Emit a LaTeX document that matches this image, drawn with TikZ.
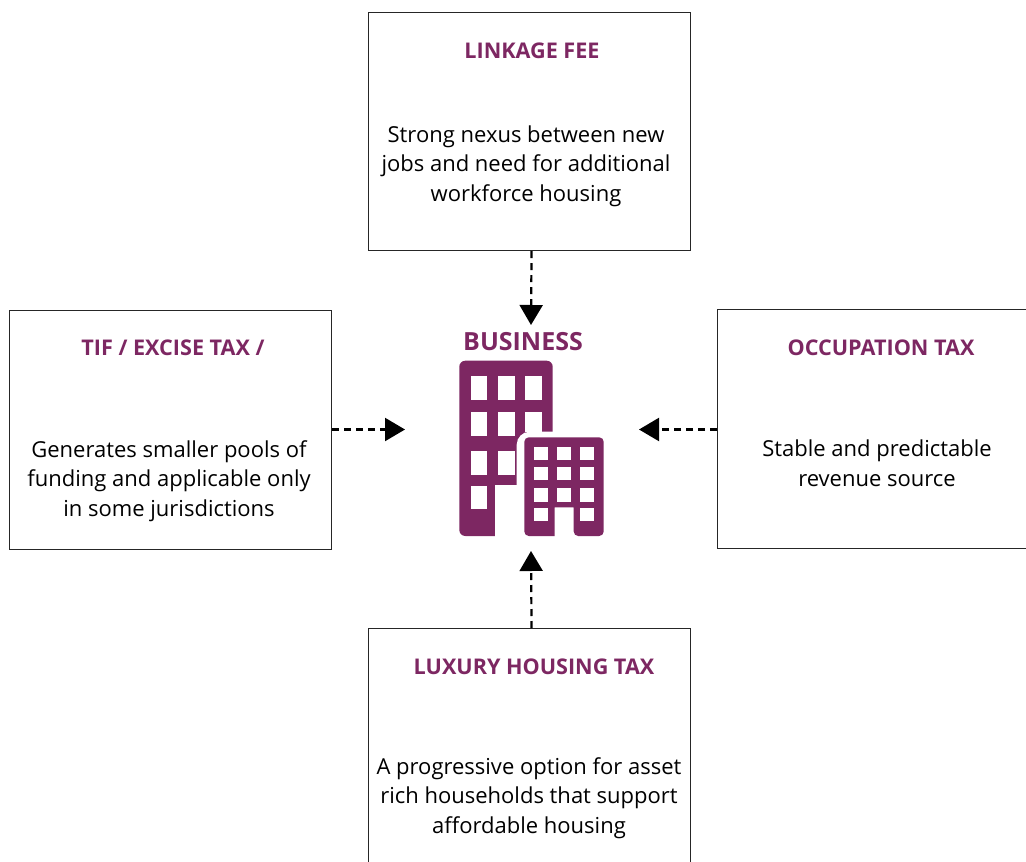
\documentclass[tikz,border=0pt]{standalone}
\usepackage{fontspec}
\setmainfont{Open Sans}
\usetikzlibrary{arrows.meta}
\definecolor{plum}{HTML}{7D2762}
\tikzset{
 x=1pt,y=-1pt,
 boxn/.style={draw=black!85,line width=1.1pt,fill=white,inner sep=0pt,minimum width=#1,anchor=north west},
 titlen/.style={text=plum,font=\fontsize{21.6}{25}\selectfont\bfseries,inner sep=0pt,anchor=base},
 bodyn/.style={font=\fontsize{22}{29.5}\selectfont,align=center,inner sep=0pt},
 link/.style={draw=black,line width=2.2pt,dash pattern=on 7pt off 5pt,-{Triangle[length=20pt,width=23pt,fill=black]}},
 plumfill/.style={fill=plum,draw=none},
 win/.style={fill=white,draw=none},
}
\newcommand{\winrect}[4]{\fill[win] (#1,#3) rectangle (#2,#4);}
\begin{document}
\begin{tikzpicture}
\useasboundingbox (0,0) rectangle (1026,862);
\node[boxn=322pt,minimum height=238pt] (top) at (368,12) {};
\node[boxn=322pt,minimum height=239pt] (left) at (9,310) {};
\node[boxn=322pt,minimum height=239pt] (right) at (717,309) {};
\node[boxn=322pt,minimum height=250pt] (bottom) at (368,628) {};
\node[titlen] (t1) at (532,58) {LINKAGE FEE};
\node[titlen] (t2) at (173,355) {TIF / EXCISE TAX /};
\node[titlen] (t3) at (881,355) {OCCUPATION TAX};
\node[titlen] (t4) at (534,674) {LUXURY HOUSING TAX};
\node[bodyn] (b1) at (526,166) {Strong nexus between new\\jobs and need for additional\\workforce housing};
\node[bodyn] (b2) at (169,481) {Generates smaller pools of\\funding and applicable only\\in some jurisdictions};
\node[bodyn] (b3) at (877,463) {Stable and predictable\\revenue source};
\node[bodyn] (b4) at (529,798) {A progressive option for asset\\rich households that support\\affordable housing};
\node[text=plum,font=\fontsize{25}{30}\selectfont\bfseries,inner sep=0pt,anchor=base] (biz) at (523,350) {BUSINESS};
% icon: tall building
\fill[plumfill,rounded corners=6] (459.3,360.7) rectangle (552.7,536);
\foreach \ya/\yb in {376/400,412.3/436.3,450.7/474.7}{
 \winrect{470.7}{487.3}{\ya}{\yb}
 \winrect{498.3}{515}{\ya}{\yb}}
\winrect{525}{541.7}{376}{400}
\winrect{525}{541.7}{412.3}{432}
\winrect{470.7}{487.3}{485.7}{509}
\fill[win] (495,484.7) rectangle (530,540);
\fill[win,rounded corners=13] (516.7,545) rectangle (615,431.7);
% icon: small building
\fill[plumfill] (554.7,536) [rounded corners=4.5] -- (524.3,536) -- (524.3,437.3) -- (603.7,437.3) -- (603.7,536) -- (573.7,536) [sharp corners] -- (573.7,507.3) -- (554.7,507.3) -- cycle;
\foreach \ya/\yb in {446.7/460,467/480.3,488.3/501.7,507.7/521}{
 \winrect{534}{548}{\ya}{\yb}
 \winrect{580.3}{594.3}{\ya}{\yb}}
\foreach \ya/\yb in {446.7/460,467/480.3,488.3/501.7}{
 \winrect{557.3}{571.3}{\ya}{\yb}}
% connectors
\coordinate (ct) at (531,325);
\coordinate (cl) at (405,429.5);
\coordinate (cr) at (639,429.5);
\coordinate (cb) at (531,551);
\draw[link] ([xshift=2pt]top.south) -- (ct);
\draw[link] (left.east |- cl) -- (cl);
\draw[link] (right.west |- cr) -- (cr);
\draw[link] ([xshift=2pt]bottom.north) -- (cb);
\end{tikzpicture}
\end{document}
